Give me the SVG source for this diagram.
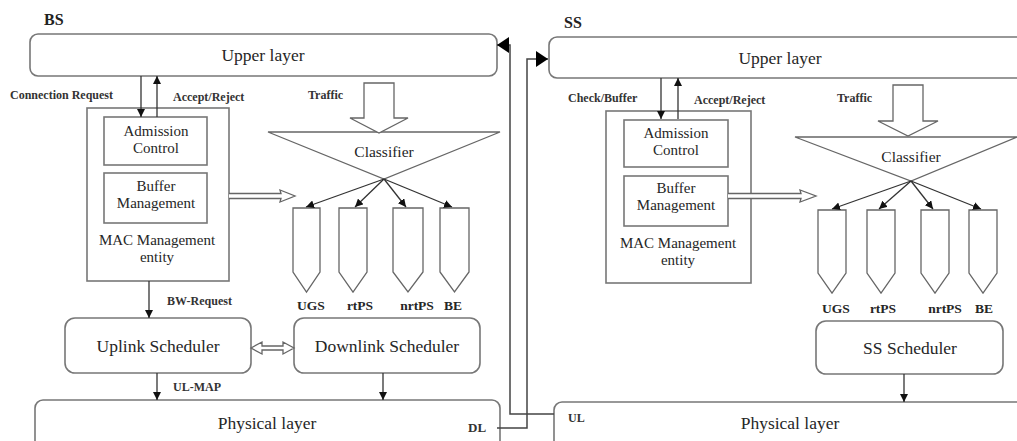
<svg xmlns="http://www.w3.org/2000/svg" width="1017" height="441" viewBox="0 0 1017 441" font-family="Liberation Serif, Times New Roman, serif">
  <style>
    .box { fill: #fff; stroke: #777; stroke-width: 1.6; }
    .hollow { fill: #fff; stroke: #666; stroke-width: 1.3; }
    .line { fill: none; stroke: #333; stroke-width: 1.3; }
    .link { fill: none; stroke: #444; stroke-width: 1.5; }
    text { fill: #262626; text-anchor: middle; }
    .big { font-size: 17.5px; }
    .mid { font-size: 15px; }
    .cls { font-size: 15.5px; }
    .lbl { font-size: 12px; font-weight: bold; text-anchor: start; fill: #333; }
    .q { font-size: 13.5px; font-weight: bold; }
    .title { font-size: 16px; font-weight: bold; text-anchor: start; fill: #222; }
  </style>
  <defs>
    <marker id="ah" markerUnits="userSpaceOnUse" markerWidth="8" markerHeight="8" refX="8" refY="4" orient="auto">
      <path d="M0,0 L8,4 L0,8 Z" fill="#111"/>
    </marker>
    <marker id="bigAh" markerUnits="userSpaceOnUse" markerWidth="12" markerHeight="16" refX="12" refY="8" orient="auto">
      <path d="M0,0 L12,8 L0,16 Z" fill="#000"/>
    </marker>
  </defs>

  <rect width="1017" height="441" fill="#fff"/>

  <!-- ===== Base station ===== -->
  <text class="title" x="44" y="25">BS</text>

  <g id="bs-upper">
    <rect class="box" x="30" y="34" width="467" height="42" rx="8"/>
    <text class="big" x="263" y="61">Upper layer</text>
  </g>

  <g id="bs-mac">
    <rect class="box" x="87" y="108" width="142" height="173"/>
    <text class="mid" x="157" y="245">MAC Management</text>
    <text class="mid" x="157" y="262">entity</text>
  </g>
  <g id="bs-admission">
    <rect class="box" x="104" y="117" width="103" height="48"/>
    <text class="mid" x="156" y="136">Admission</text>
    <text class="mid" x="156" y="153">Control</text>
  </g>
  <g id="bs-buffer">
    <rect class="box" x="104" y="173" width="103" height="50"/>
    <text class="mid" x="156" y="191">Buffer</text>
    <text class="mid" x="156" y="208">Management</text>
  </g>

  <g id="bs-classifier">
    <path class="hollow" d="M268,132 L500,132 L384,179 Z"/>
    <text class="cls" x="384" y="157">Classifier</text>
  </g>

  <g id="bs-queues">
    <path class="hollow" d="M293,208 L293,272 L306.5,292 L320,272 L320,208 Z"/>
    <path class="hollow" d="M339,208 L339,272 L353,292 L367,272 L367,208 Z"/>
    <path class="hollow" d="M393,208 L393,272 L408,292 L423,272 L423,208 Z"/>
    <path class="hollow" d="M440,208 L440,272 L454.5,292 L469,272 L469,208 Z"/>
    <text class="q" x="311" y="310">UGS</text>
    <text class="q" x="360" y="310">rtPS</text>
    <text class="q" x="417" y="310">nrtPS</text>
    <text class="q" x="453" y="310">BE</text>
  </g>

  <g id="bs-uplink">
    <rect class="box" x="65" y="318" width="186" height="55" rx="10"/>
    <text class="big" x="158" y="352">Uplink Scheduler</text>
  </g>
  <g id="bs-downlink">
    <rect class="box" x="294" y="318" width="186" height="55" rx="10"/>
    <text class="big" x="387" y="352">Downlink Scheduler</text>
  </g>

  <g id="bs-physical">
    <rect class="box" x="35" y="400" width="465" height="60" rx="8"/>
    <text class="big" x="267" y="429">Physical layer</text>
    <text class="lbl" x="468" y="432" style="font-size:13px">DL</text>
  </g>

  <!-- ===== Subscriber station ===== -->
  <text class="title" x="564" y="28">SS</text>

  <g id="ss-upper">
    <rect class="box" x="549" y="37" width="480" height="41" rx="8"/>
    <text class="big" x="780" y="64">Upper layer</text>
  </g>

  <g id="ss-mac">
    <rect class="box" x="606" y="111" width="145" height="172"/>
    <text class="mid" x="678" y="248">MAC Management</text>
    <text class="mid" x="678" y="265">entity</text>
  </g>
  <g id="ss-admission">
    <rect class="box" x="624" y="120" width="104" height="47"/>
    <text class="mid" x="676" y="138">Admission</text>
    <text class="mid" x="676" y="155">Control</text>
  </g>
  <g id="ss-buffer">
    <rect class="box" x="624" y="176" width="104" height="50"/>
    <text class="mid" x="676" y="193">Buffer</text>
    <text class="mid" x="676" y="210">Management</text>
  </g>

  <g id="ss-classifier">
    <path class="hollow" d="M795,137 L1017,137 L911,181 Z"/>
    <text class="cls" x="911" y="162">Classifier</text>
  </g>

  <g id="ss-queues">
    <path class="hollow" d="M818,210 L818,273 L832,293 L846,273 L846,210 Z"/>
    <path class="hollow" d="M867,210 L867,273 L881,293 L895,273 L895,210 Z"/>
    <path class="hollow" d="M921,210 L921,273 L935,293 L949,273 L949,210 Z"/>
    <path class="hollow" d="M969,210 L969,273 L983,293 L997,273 L997,210 Z"/>
    <text class="q" x="836" y="313">UGS</text>
    <text class="q" x="883" y="313">rtPS</text>
    <text class="q" x="945" y="313">nrtPS</text>
    <text class="q" x="984" y="313">BE</text>
  </g>

  <g id="ss-scheduler">
    <rect class="box" x="816" y="321" width="187" height="53" rx="10"/>
    <text class="big" x="910" y="354">SS Scheduler</text>
  </g>

  <g id="ss-physical">
    <rect class="box" x="554" y="402" width="480" height="60" rx="8"/>
    <text class="big" x="790" y="429">Physical layer</text>
    <text class="lbl" x="568" y="422">UL</text>
  </g>

  <!-- ===== Connectors ===== -->
  <g id="connectors">
    <!-- BS signalling -->
    <line class="line" x1="141" y1="76" x2="141" y2="117" marker-end="url(#ah)"/>
    <line class="line" x1="157" y1="117" x2="157" y2="76" marker-end="url(#ah)"/>
    <text class="lbl" x="10" y="99">Connection Request</text>
    <text class="lbl" x="173" y="101">Accept/Reject</text>

    <!-- BS traffic into classifier -->
    <path class="hollow" d="M364,83 L394,83 L394,118 L408,118 L379,133 L350,118 L364,118 Z"/>
    <text class="lbl" x="308" y="99">Traffic</text>

    <!-- BS buffer management to queues -->
    <path class="hollow" d="M229,193.5 L281,193.5 L280,190 L295,196 L280,202 L281,198.5 L229,198.5"/>

    <!-- BS classifier to queues -->
    <line class="line" x1="384" y1="179" x2="306" y2="207" marker-end="url(#ah)"/>
    <line class="line" x1="384" y1="179" x2="355" y2="207" marker-end="url(#ah)"/>
    <line class="line" x1="384" y1="179" x2="406" y2="207" marker-end="url(#ah)"/>
    <line class="line" x1="384" y1="179" x2="452" y2="207" marker-end="url(#ah)"/>

    <!-- BS bandwidth request -->
    <line class="line" x1="149" y1="281" x2="149" y2="318" marker-end="url(#ah)"/>
    <text class="lbl" x="167" y="305">BW-Request</text>

    <!-- Uplink / downlink scheduler exchange -->
    <path class="hollow" d="M251,348 L262,342 L262,346 L283,346 L283,342 L294,348 L283,354 L283,350 L262,350 L262,354 Z"/>

    <!-- BS schedulers to physical layer -->
    <line class="line" x1="157" y1="373" x2="157" y2="400" marker-end="url(#ah)"/>
    <text class="lbl" x="173" y="391">UL-MAP</text>
    <line class="line" x1="383" y1="373" x2="383" y2="400" marker-end="url(#ah)"/>

    <!-- Downlink: BS physical to SS upper layer -->
    <polyline class="link" points="497,428 527,428 527,59 548,59" marker-end="url(#bigAh)"/>
    <!-- Uplink: SS physical to BS upper layer -->
    <polyline class="link" points="554,414 510,414 510,45 497,45" marker-end="url(#bigAh)"/>

    <!-- SS signalling -->
    <line class="line" x1="661" y1="78" x2="661" y2="119" marker-end="url(#ah)"/>
    <line class="line" x1="678" y1="119" x2="678" y2="78" marker-end="url(#ah)"/>
    <text class="lbl" x="568" y="102">Check/Buffer</text>
    <text class="lbl" x="694" y="104">Accept/Reject</text>

    <!-- SS traffic into classifier -->
    <path class="hollow" d="M893,85 L923,85 L923,121 L938,121 L908,136 L878,121 L893,121 Z"/>
    <text class="lbl" x="837" y="102">Traffic</text>

    <!-- SS buffer management to queues -->
    <path class="hollow" d="M728,193.5 L801,193.5 L800,190 L816,196 L800,202 L801,198.5 L728,198.5"/>

    <!-- SS classifier to queues -->
    <line class="line" x1="911" y1="181" x2="832" y2="209" marker-end="url(#ah)"/>
    <line class="line" x1="911" y1="181" x2="879" y2="209" marker-end="url(#ah)"/>
    <line class="line" x1="911" y1="181" x2="933" y2="209" marker-end="url(#ah)"/>
    <line class="line" x1="911" y1="181" x2="981" y2="209" marker-end="url(#ah)"/>

    <!-- SS scheduler to physical layer -->
    <line class="line" x1="904" y1="374" x2="904" y2="402" marker-end="url(#ah)"/>
  </g>
</svg>
